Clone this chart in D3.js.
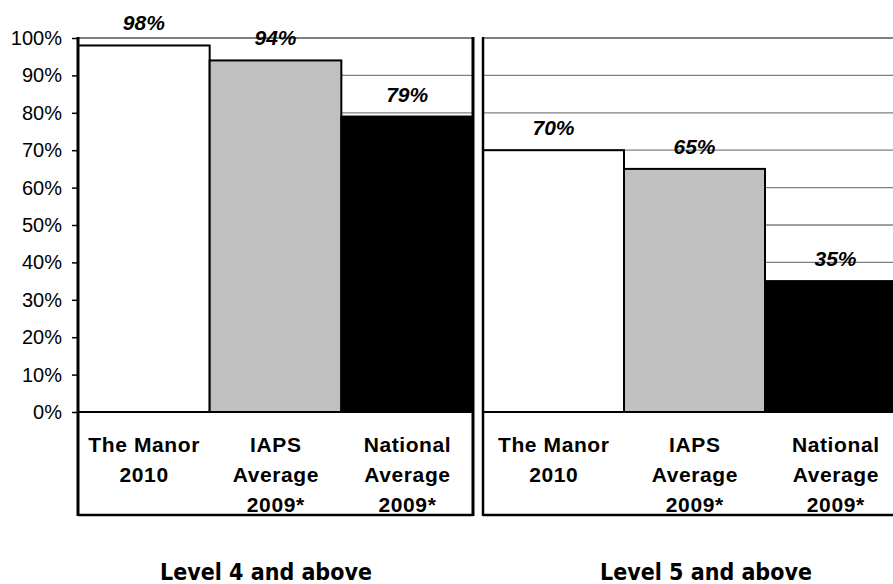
<!DOCTYPE html>
<html>
<head>
<meta charset="utf-8">
<script src="https://cdn.jsdelivr.net/npm/d3@7"></script>
<style>
html,body{margin:0;padding:0;background:#fff;}
svg{display:block;}
</style>
</head>
<body>
<svg id="chart" width="893" height="584"></svg>
<script>
// ---- data ----
const categories = ["The Manor 2010", "IAPS Average 2009*", "National Average 2009*"];
const categoryLines = [["The Manor", "2010"], ["IAPS", "Average", "2009*"], ["National", "Average", "2009*"]];
const panelTitles = ["Level 4 and above", "Level 5 and above"];
const level4Values = [98, 94, 79];
const level5Values = [70, 65, 35];
const barColors = ["#ffffff", "#c0c0c0", "#000000"];
const yTicks = [0, 10, 20, 30, 40, 50, 60, 70, 80, 90, 100];

const svg = d3.select("#chart");
const y = d3.scaleLinear().domain([0, 100]).range([412, 38]);

const panels = [
  { values: level4Values, title: panelTitles[0], x: d3.scaleBand().domain(categories).range([78, 473]), gridR: 473, titleX: 266 },
  { values: level5Values, title: panelTitles[1], x: d3.scaleBand().domain(categories).range([483, 906]), gridR: 893, titleX: 706 }
];

const boxBottom = 515;

panels.forEach((p, pi) => {
  const g = svg.append("g");
  const x0 = p.x.range()[0];
  // gridlines
  g.selectAll("line.grid").data(yTicks.filter(d => d > 0)).join("line")
    .attr("x1", x0).attr("x2", p.gridR)
    .attr("y1", d => y(d)).attr("y2", d => y(d))
    .attr("stroke", "#808080")
    .attr("stroke-width", d => d === 100 ? 2 : 1.3);
  // bars
  g.selectAll("rect.bar").data(p.values).join("rect")
    .attr("x", (d, i) => p.x(categories[i]))
    .attr("y", d => y(d))
    .attr("width", p.x.bandwidth())
    .attr("height", d => y(0) - y(d))
    .attr("fill", (d, i) => barColors[i])
    .attr("stroke", "#000")
    .attr("stroke-width", 2);
  // value labels
  g.selectAll("text.val").data(p.values).join("text")
    .attr("x", (d, i) => p.x(categories[i]) + p.x.bandwidth() / 2)
    .attr("y", d => y(d) - 15)
    .attr("text-anchor", "middle")
    .attr("font-family", "Liberation Sans, Arial, sans-serif")
    .attr("font-weight", "bold")
    .attr("font-style", "italic")
    .attr("font-size", 21)
    .text(d => d + "%");
  // baseline
  g.append("line")
    .attr("x1", x0).attr("x2", p.gridR)
    .attr("y1", y(0)).attr("y2", y(0))
    .attr("stroke", "#000").attr("stroke-width", 2);
  // box bottom
  g.append("line")
    .attr("x1", x0).attr("x2", p.gridR)
    .attr("y1", boxBottom).attr("y2", boxBottom)
    .attr("stroke", "#000").attr("stroke-width", 2.5);
  // category labels
  categoryLines.forEach((lines, i) => {
    const cx = p.x(categories[i]) + p.x.bandwidth() / 2;
    const t = g.append("text")
      .attr("text-anchor", "middle")
      .attr("font-family", "Liberation Sans, Arial, sans-serif")
      .attr("font-weight", "bold")
      .attr("font-size", 21)
      .attr("letter-spacing", "0.6px");
    lines.forEach((ln, li) => {
      t.append("tspan").attr("x", cx + 0.3).attr("y", 451.5 + li * 30).text(ln);
    });
  });
  // panel title
  g.append("text")
    .attr("x", p.titleX).attr("y", 580)
    .attr("text-anchor", "middle")
    .attr("font-family", "DejaVu Sans Condensed, DejaVu Sans, sans-serif")
    .attr("font-stretch", "condensed")
    .attr("font-weight", "bold")
    .attr("font-size", 23)
    .text(p.title);
});

// panel borders
svg.append("line").attr("x1", 78).attr("x2", 78).attr("y1", 37).attr("y2", boxBottom + 1)
  .attr("stroke", "#000").attr("stroke-width", 3);
svg.append("line").attr("x1", 473).attr("x2", 473).attr("y1", 37).attr("y2", boxBottom + 1)
  .attr("stroke", "#000").attr("stroke-width", 3);
svg.append("line").attr("x1", 483).attr("x2", 483).attr("y1", 37).attr("y2", boxBottom + 1)
  .attr("stroke", "#000").attr("stroke-width", 2.5);

// y axis
const yAxis = svg.append("g").attr("transform", "translate(78,0)")
  .call(d3.axisLeft(y).tickValues(yTicks).tickFormat(d => d + "%").tickSize(6).tickPadding(10));
yAxis.select(".domain").remove();
yAxis.selectAll(".tick line").attr("stroke", "#000").attr("stroke-width", 1.5);
yAxis.selectAll(".tick text")
  .attr("font-family", "Liberation Sans, Arial, sans-serif")
  .attr("font-size", 20)
  .attr("fill", "#000");
</script>
</body>
</html>
